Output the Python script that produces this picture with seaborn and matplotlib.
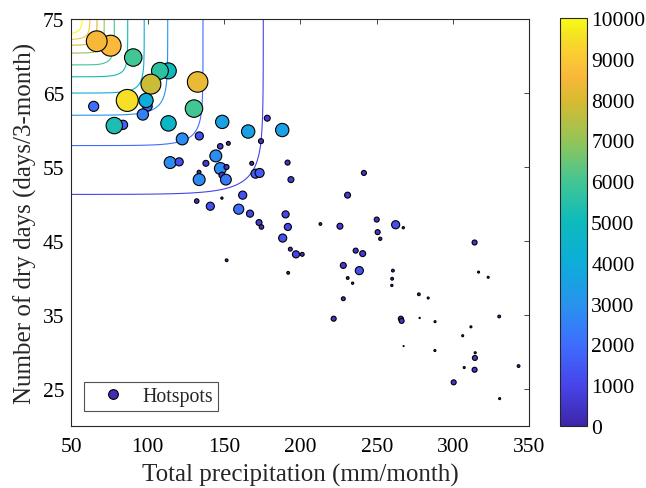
import numpy as np
import pandas as pd
import matplotlib
matplotlib.use("Agg")
import matplotlib.pyplot as plt
import seaborn as sns
from matplotlib.colors import LinearSegmentedColormap, Normalize
from matplotlib.lines import Line2D
from matplotlib.cm import ScalarMappable

# ---------------- data ----------------
precip = [75.7, 66.6, 113.5, 108.0, 90.5, 102.1, 132.7, 99.8, 86.6, 98.9,
          64.6, 96.8, 130.3, 83.8, 78.1, 113.6, 148.8, 122.6, 133.8, 165.8,
          188.1, 178.3, 174.2, 114.7, 120.6, 147.5, 152.8,
          138.1, 144.6, 147.6, 151.6, 148.6, 133.6, 133.7, 151.2, 168.1, 170.6,
          173.3, 191.6, 193.8, 132.1, 148.6, 141.0, 162.2, 159.6, 167.0, 190.3,
          172.9, 174.5, 191.8, 188.4, 193.4, 197.1, 201.2, 213.1, 225.9, 151.7,
          192.0, 241.6, 230.9, 250.0, 262.4, 267.4, 250.6, 252.3, 236.2, 240.8,
          228.1, 238.6, 231.0, 234.2, 228.1, 221.8, 260.6, 260.1, 259.9, 277.6,
          283.7, 314.1, 316.7, 323.0, 265.8, 266.3, 278.1, 288.2, 311.7, 330.2,
          306.3, 267.6, 288.1, 314.5, 314.3, 307.3, 314.1, 342.9, 300.4, 330.5]
drydays = [71.4, 72.0, 68.0, 68.0, 69.8, 66.2, 66.5, 63.2, 64.0, 64.0,
           63.2, 62.1, 62.9, 60.7, 60.6, 60.9, 61.1, 58.8, 59.2, 59.8,
           60.0, 61.6, 58.5, 55.6, 55.7, 57.8, 58.2,
           55.5, 56.5, 54.8, 55.0, 53.9, 54.3, 53.3, 53.3, 55.5, 54.1,
           54.2, 55.6, 53.3, 50.4, 50.8, 49.7, 51.2, 49.3, 48.7, 48.6,
           47.5, 46.9, 46.9, 45.4, 43.9, 43.2, 43.2, 47.3, 47.0, 42.4,
           40.7, 54.2, 51.2, 47.9, 47.2, 46.8, 46.2, 45.3, 43.7, 43.3,
           41.7, 41.0, 40.0, 39.3, 37.2, 34.5, 41.0, 39.9, 39.0, 37.8,
           37.3, 44.8, 40.8, 40.1, 34.5, 34.2, 34.6, 34.1, 33.4, 34.8,
           32.2, 30.8, 30.2, 29.9, 29.2, 27.9, 27.6, 28.1, 25.9, 23.7]
value = [8600, 8500, 5000, 5600, 6000, 7800, 8300, 1800, 9500, 4000,
         2000, 2500, 6000, 1700, 5300, 4700, 3500, 2800, 1300, 3500,
         3500, 700, 500, 2800, 1300, 600, 300,
         700, 2800, 2800, 500, 700, 300, 2800, 2300, 300, 1600,
         1600, 500, 700, 400, 100, 1300, 1300, 2000, 1000, 1000,
         700, 400, 1000, 1300, 300, 1000, 300, 150, 700, 150,
         150, 500, 700, 500, 1300, 100, 500, 200, 500, 700,
         700, 1300, 150, 100, 300, 500, 150, 150, 100, 150,
         80, 500, 80, 80, 500, 500, 30, 80, 80, 150,
         80, 20, 80, 80, 500, 80, 500, 150, 500, 80]

# contour levels and where each level meets the axes-parallel branches
contour_levels = [1000, 2000, 3000, 4000, 5000, 6000, 7000, 8000, 9000, 10000]
level_precip_edge = [175.7, 136.2, 113.1, 97.7, 86.9, 78.1, 71.5, 66.8, 62.2, 57.4]
level_dry_edge = [51.3, 57.9, 62.0, 65.0, 67.2, 68.8, 70.4, 71.45, 72.2, 72.9]
level_sharpness = [3.3, 5.3, 5.8, 7.5, 9, 10, 10, 10, 10, 10]

x_ticks = [50, 100, 150, 200, 250, 300, 350]
y_ticks = [25, 35, 45, 55, 65, 75]
cbar_ticks = [0, 1000, 2000, 3000, 4000, 5000, 6000, 7000, 8000, 9000, 10000]

# ---------------- colormap (parula-like) ----------------
parula_anchors = [
    (0.00, (0.2422, 0.1504, 0.6603)),
    (0.10, (0.2780, 0.2700, 0.9200)),
    (0.20, (0.2440, 0.4300, 0.9950)),
    (0.30, (0.1540, 0.5800, 0.9300)),
    (0.40, (0.0500, 0.6800, 0.8500)),
    (0.50, (0.0500, 0.7300, 0.7400)),
    (0.60, (0.2600, 0.7750, 0.5800)),
    (0.70, (0.5800, 0.7700, 0.3400)),
    (0.80, (0.8500, 0.7300, 0.1900)),
    (0.86, (0.9800, 0.7200, 0.2300)),
    (0.92, (0.9850, 0.8100, 0.1900)),
    (0.96, (0.9600, 0.8900, 0.1400)),
    (1.00, (0.9769, 0.9839, 0.0805)),
]
parula = LinearSegmentedColormap.from_list("parula", parula_anchors, N=256)
norm = Normalize(vmin=0, vmax=10000)

# ---------------- style ----------------
sns.set_style("white")
plt.rcParams["font.family"] = ["Liberation Serif", "DejaVu Serif"]
plt.rcParams["mathtext.fontset"] = "stix"
txt = (0.15, 0.15, 0.15)

fig = plt.figure(figsize=(6.46, 4.89), dpi=100)
ax = fig.add_axes([0.1105, 0.1268, 0.709, 0.8322])
cax = fig.add_axes([0.8669, 0.1268, 0.0418, 0.8344])

# ---------------- contour surface ----------------
def log_interp(q, xp, fp):
    xp = np.asarray(xp, float)
    fp = np.asarray(fp, float)
    out = np.interp(q, xp, fp)
    s0 = (fp[1] - fp[0]) / (xp[1] - xp[0])
    s1 = (fp[-1] - fp[-2]) / (xp[-1] - xp[-2])
    lo = q < xp[0]
    hi = q > xp[-1]
    out[lo] = fp[0] + s0 * (q[lo] - xp[0])
    out[hi] = fp[-1] + s1 * (q[hi] - xp[-1])
    return np.exp(out)

gx = np.linspace(50, 350, 700)
gy = np.linspace(20, 75, 500)
GX, GY = np.meshgrid(gx, gy)
lnL = np.log(np.array(contour_levels, float))
U = log_interp(GX, level_precip_edge[::-1], lnL[::-1])
V = log_interp(GY, level_dry_edge, lnL)

for L, p in zip(contour_levels, level_sharpness):
    H = (L / U) ** p + (L / V) ** p
    ax.contour(GX, GY, H, levels=[1.0], colors=[parula(norm(L))],
               linewidths=0.8, zorder=1)

# ---------------- scatter ----------------
df = pd.DataFrame({"precip": precip, "drydays": drydays, "value": value})
sns.scatterplot(data=df, x="precip", y="drydays", hue="value", size="value",
                palette=parula, hue_norm=norm,
                sizes=(0, 10000 / 38.0), size_norm=(0, 10000),
                edgecolor="black", linewidth=0.8, legend=False,
                ax=ax, zorder=3)

# ---------------- axes ----------------
ax.set_xlim(50, 350)
ax.set_ylim(20, 75)
ax.set_xticks(x_ticks)
ax.set_yticks(y_ticks)
ax.tick_params(direction="in", length=3.6, width=0.6, colors=txt,
               labelsize=15.5, top=True, right=True, labelcolor="black")
ax.tick_params(axis="x", pad=8)
ax.tick_params(axis="y", pad=5)
for sp in ax.spines.values():
    sp.set_visible(True)
    sp.set_color(txt)
    sp.set_linewidth(0.8)
ax.set_xlabel("Total precipitation (mm/month)", fontsize=18, color=txt, labelpad=5)
ax.set_ylabel("Number of dry days (days/3-month)", fontsize=18, color=txt, labelpad=4)

# legend
handle = Line2D([], [], marker="o", linestyle="none", markersize=7,
                markerfacecolor=parula(0.02), markeredgecolor="black",
                markeredgewidth=0.8)
leg = ax.legend([handle], ["Hotspots"], loc="lower left",
                bbox_to_anchor=(0.027, 0.037), borderaxespad=0,
                fontsize=14.3, frameon=True, fancybox=False,
                borderpad=0.25, handlelength=2.4, handletextpad=0.3)
leg.get_frame().set_edgecolor(txt)
leg.get_frame().set_linewidth(0.8)

# colorbar
sm = ScalarMappable(norm=norm, cmap=parula)
cb = fig.colorbar(sm, cax=cax, ticks=cbar_ticks)
cb.outline.set_linewidth(0.8)
cb.outline.set_edgecolor(txt)
cax.tick_params(direction="in", length=4, width=0.6, colors=txt,
                labelsize=15.5, pad=3, labelcolor="black")

fig.savefig("out.png", dpi=100)
